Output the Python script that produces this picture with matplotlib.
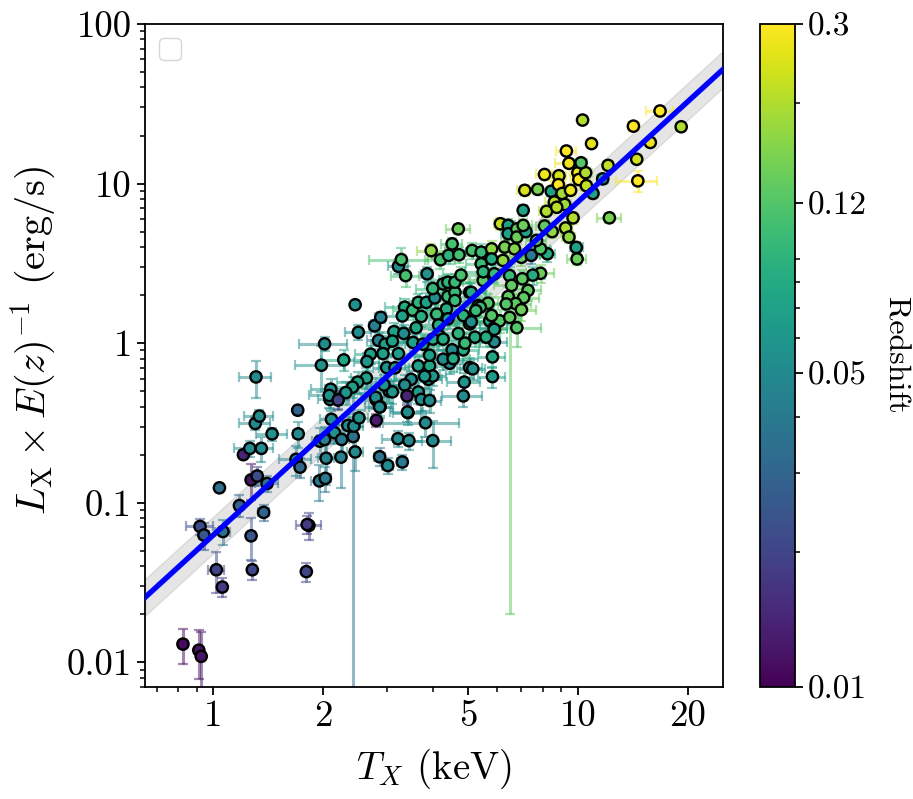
import numpy as np
import matplotlib
matplotlib.use("Agg")
import matplotlib.pyplot as plt
from matplotlib.colors import LogNorm
from matplotlib.ticker import FixedLocator, FixedFormatter, NullFormatter

#Temperature (keV)
T = [0.826, 0.913, 0.927, 1.059, 1.02, 1.28, 1.80, 1.83, 1.81, 0.92,
     0.943, 1.063, 1.27, 1.375, 1.18, 1.04, 1.27, 1.32, 1.405, 1.21,
     1.26, 1.355, 1.304, 1.338, 1.45, 1.705, 1.71, 1.687, 1.73, 1.955,
     2.03, 2.04, 2.24, 2.45, 2.42, 2.11, 2.15, 2.34, 2.43, 2.51,
     2.20, 2.09, 1.96, 2.02, 2.25, 2.80, 2.80, 2.87, 3.42, 3.82,
     2.86, 3.01, 3.30, 3.21, 3.44, 4.00, 1.31, 2.02, 1.98, 2.28,
     2.45, 2.50, 2.77, 2.88, 2.84, 2.96, 3.13, 3.33, 3.10, 2.92,
     2.70, 2.64, 3.22, 2.99, 2.63, 2.49, 2.41, 2.31, 2.10, 2.08,
     2.20, 2.79, 2.86, 3.41, 4.85, 4.88, 5.83, 5.83, 5.90, 5.05,
     5.15, 5.22, 5.60, 4.85, 4.52, 4.45, 4.27, 3.92, 3.92, 3.65,
     3.49, 3.89, 4.00, 3.04, 3.10, 2.94, 3.35, 3.65, 3.72, 3.92,
     3.40, 3.35, 3.30, 3.52, 3.65, 3.72, 3.84, 4.05, 4.00, 4.40,
     4.60, 4.27, 4.40, 4.60, 4.78, 3.86, 3.37, 3.22, 3.28, 4.20,
     3.96, 4.52, 4.42, 4.72, 4.70, 5.13, 5.43, 5.43, 5.50, 5.05,
     5.33, 4.36, 4.10, 4.40, 5.05, 5.73, 5.90, 4.17, 4.00, 3.53,
     3.76, 4.27, 4.85, 6.13, 6.44, 6.44, 7.08, 7.15, 7.76, 8.45,
     8.10, 8.87, 8.84, 9.05, 9.55, 10.0, 10.06, 10.5, 10.55, 11.0,
     11.7, 8.62, 9.20, 8.20, 8.75, 9.70, 9.25, 9.45, 9.90, 9.95,
     12.2, 8.10, 8.50, 6.80, 6.80, 7.20, 7.08, 5.80, 6.30, 6.70,
     5.80, 6.23, 7.00, 7.45, 8.25, 7.90, 7.70, 5.50, 7.90, 7.52,
     7.04, 6.50, 5.90, 6.58, 7.30, 7.10, 6.44, 6.75, 7.00, 6.36,
     5.67, 6.10, 5.80, 5.90, 6.80, 6.50, 5.10, 4.90, 4.60, 5.10,
     5.40, 10.3, 10.9, 9.30, 9.45, 10.2, 12.1, 14.5, 15.8, 14.2,
     16.8, 19.2, 14.6, 3.60, 4.15, 4.70, 5.25, 3.15, 3.80, 4.55]
#Luminosity
L = [0.0130, 0.0119, 0.0109, 0.0296, 0.038, 0.038, 0.037, 0.072, 0.073, 0.071,
     0.0627, 0.066, 0.062, 0.087, 0.096, 0.124, 0.139, 0.147, 0.132, 0.20,
     0.219, 0.219, 0.314, 0.349, 0.27, 0.38, 0.27, 0.187, 0.167, 0.137,
     0.142, 0.19, 0.193, 0.208, 0.26, 0.333, 0.275, 0.305, 0.302, 0.34,
     0.444, 0.444, 0.243, 0.249, 0.249, 0.328, 0.44, 0.40, 0.367, 0.317,
     0.194, 0.171, 0.18, 0.252, 0.245, 0.245, 0.614, 0.99, 0.727, 0.785,
     1.74, 1.17, 1.285, 1.45, 1.04, 0.985, 1.18, 1.15, 1.03, 0.86,
     0.853, 0.767, 0.86, 0.703, 0.605, 0.57, 0.53, 0.49, 0.514, 0.47,
     0.44, 0.457, 0.398, 0.37, 0.467, 0.57, 0.617, 0.82, 1.02, 0.703,
     0.69, 1.09, 1.09, 0.908, 0.908, 0.748, 0.793, 0.72, 0.84, 0.72,
     0.593, 0.593, 0.622, 0.50, 0.495, 0.547, 0.547, 0.494, 0.444, 0.437,
     0.467, 1.68, 1.48, 1.61, 1.80, 1.47, 1.80, 1.92, 2.20, 1.96,
     2.08, 2.35, 2.41, 2.41, 2.67, 2.72, 2.65, 3.03, 3.34, 3.33,
     3.80, 4.19, 3.55, 3.58, 5.20, 3.81, 3.72, 3.14, 2.47, 2.08,
     1.72, 1.64, 1.52, 1.42, 1.32, 1.38, 1.25, 1.11, 1.06, 1.01,
     0.985, 1.06, 1.49, 5.60, 5.47, 4.85, 6.80, 9.07, 9.20, 8.95,
     11.4, 11.2, 9.85, 8.67, 9.07, 11.7, 10.6, 11.7, 9.70, 8.67,
     10.7, 7.66, 7.40, 6.70, 7.10, 6.10, 5.27, 4.62, 3.98, 3.37,
     6.10, 5.42, 5.00, 5.20, 4.62, 5.00, 5.47, 3.90, 4.00, 3.90,
     3.37, 3.30, 3.45, 3.55, 3.63, 3.90, 4.40, 2.80, 2.74, 2.67,
     2.53, 2.65, 2.72, 2.30, 2.14, 1.93, 1.96, 1.77, 1.62, 1.76,
     1.78, 1.38, 1.49, 1.22, 1.25, 1.45, 1.36, 1.00, 1.85, 2.08,
     1.68, 25.0, 17.8, 16.0, 13.4, 13.5, 13.0, 14.2, 18.1, 22.9,
     28.5, 22.7, 10.4, 1.25, 1.30, 1.15, 1.60, 0.70, 0.62, 0.80]
#Redshift
z = [0.011, 0.012, 0.012, 0.018, 0.020, 0.020, 0.020, 0.020, 0.018, 0.022,
     0.025, 0.035, 0.025, 0.030, 0.028, 0.035, 0.012, 0.022, 0.035, 0.014,
     0.050, 0.050, 0.050, 0.050, 0.055, 0.030, 0.050, 0.045, 0.030, 0.040,
     0.040, 0.045, 0.045, 0.050, 0.035, 0.050, 0.055, 0.050, 0.050, 0.055,
     0.040, 0.050, 0.045, 0.045, 0.040, 0.013, 0.050, 0.050, 0.055, 0.050,
     0.035, 0.050, 0.040, 0.050, 0.050, 0.050, 0.050, 0.050, 0.055, 0.075,
     0.055, 0.050, 0.045, 0.045, 0.045, 0.070, 0.070, 0.050, 0.070, 0.070,
     0.070, 0.060, 0.065, 0.060, 0.070, 0.070, 0.070, 0.060, 0.055, 0.055,
     0.020, 0.050, 0.050, 0.050, 0.050, 0.060, 0.065, 0.075, 0.050, 0.060,
     0.055, 0.080, 0.080, 0.080, 0.050, 0.050, 0.050, 0.075, 0.070, 0.070,
     0.050, 0.060, 0.060, 0.065, 0.060, 0.060, 0.050, 0.065, 0.050, 0.050,
     0.014, 0.080, 0.070, 0.100, 0.090, 0.085, 0.070, 0.050, 0.095, 0.100,
     0.100, 0.090, 0.090, 0.100, 0.110, 0.055, 0.110, 0.050, 0.110, 0.110,
     0.170, 0.110, 0.090, 0.110, 0.140, 0.110, 0.100, 0.100, 0.130, 0.080,
     0.110, 0.080, 0.100, 0.070, 0.100, 0.080, 0.070, 0.090, 0.080, 0.070,
     0.075, 0.080, 0.090, 0.220, 0.070, 0.070, 0.070, 0.240, 0.150, 0.070,
     0.280, 0.240, 0.300, 0.190, 0.270, 0.280, 0.300, 0.200, 0.220, 0.070,
     0.070, 0.220, 0.180, 0.200, 0.210, 0.200, 0.200, 0.170, 0.070, 0.140,
     0.150, 0.130, 0.170, 0.130, 0.140, 0.070, 0.140, 0.170, 0.150, 0.160,
     0.080, 0.170, 0.140, 0.040, 0.080, 0.120, 0.130, 0.090, 0.140, 0.080,
     0.130, 0.100, 0.100, 0.130, 0.130, 0.130, 0.130, 0.130, 0.140, 0.120,
     0.120, 0.120, 0.120, 0.070, 0.120, 0.130, 0.050, 0.100, 0.100, 0.080,
     0.100, 0.200, 0.260, 0.300, 0.280, 0.120, 0.220, 0.230, 0.270, 0.300,
     0.300, 0.200, 0.300, 0.075, 0.085, 0.090, 0.100, 0.065, 0.060, 0.080]
T_err = [0.0, 0.0, 0.0, 0.02, 0.05, 0.0, 0.02, 0.14, 0.03, 0.08,
         0.03, 0.05, 0.02, 0.05, 0.03, 0.02, 0.03, 0.04, 0.10, 0.02,
         0.12, 0.10, 0.13, 0.12, 0.14, 0.02, 0.05, 0.17, 0.03, 0.10,
         0.08, 0.10, 0.05, 0.12, 0.04, 0.15, 0.15, 0.18, 0.15, 0.15,
         0.15, 0.15, 0.10, 0.10, 0.10, 0.05, 0.20, 0.20, 0.30, 0.90,
         0.10, 0.10, 0.10, 0.30, 0.30, 0.50, 0.13, 0.30, 0.30, 0.30,
         0.05, 0.20, 0.10, 0.10, 0.20, 0.25, 0.30, 0.25, 0.30, 0.25,
         0.25, 0.20, 0.25, 0.25, 0.25, 0.30, 0.30, 0.30, 0.25, 0.25,
         0.05, 0.25, 0.25, 0.35, 0.60, 0.50, 0.50, 0.50, 0.50, 0.40,
         0.40, 0.50, 0.50, 0.50, 0.40, 0.40, 0.35, 0.35, 0.35, 0.30,
         0.35, 0.35, 0.35, 0.30, 0.30, 0.30, 0.30, 0.30, 0.30, 0.30,
         0.05, 0.40, 0.40, 0.40, 0.40, 0.30, 0.30, 0.35, 0.40, 0.50,
         0.50, 0.45, 0.45, 0.45, 0.50, 0.15, 0.30, 0.20, 0.60, 0.40,
         0.35, 0.30, 0.45, 0.45, 0.35, 0.50, 0.50, 0.50, 0.50, 0.50,
         0.50, 0.50, 0.50, 0.50, 0.60, 0.70, 0.50, 0.45, 0.40, 0.35,
         0.40, 0.45, 0.50, 0.25, 0.30, 0.30, 0.15, 0.35, 0.20, 0.10,
         0.40, 0.40, 0.40, 0.30, 0.30, 0.50, 0.50, 0.40, 0.40, 0.30,
         0.40, 0.50, 0.40, 0.40, 0.40, 0.30, 0.40, 0.40, 0.40, 0.60,
         0.90, 0.40, 0.50, 0.40, 0.50, 0.30, 0.40, 0.60, 0.40, 0.50,
         0.50, 0.50, 0.50, 0.40, 0.40, 0.50, 0.50, 0.60, 0.70, 0.60,
         0.70, 0.60, 0.50, 0.70, 0.60, 0.70, 0.70, 0.70, 0.70, 0.70,
         0.60, 0.80, 0.60, 0.50, 1.10, 0.50, 0.50, 0.50, 0.50, 0.50,
         0.50, 0.15, 0.25, 0.60, 0.80, 0.40, 0.40, 0.40, 0.40, 0.50,
         1.40, 0.50, 1.90, 0.40, 0.50, 0.50, 0.50, 0.30, 0.40, 0.50]
L_err = [0.0032, 0.004, 0.0045, 0.004, 0.011, 0.005, 0.005, 0.014, 0.009, 0.008,
         0.012, 0.012, 0.018, 0.010, 0.015, 0.006, 0.035, 0.020, 0.015, 0.010,
         0.025, 0.040, 0.030, 0.030, 0.025, 0.025, 0.050, 0.040, 0.025, 0.035,
         0.025, 0.060, 0.070, 0.050, 0.270, 0.040, 0.040, 0.040, 0.060, 0.040,
         0.060, 0.060, 0.050, 0.050, 0.060, 0.030, 0.050, 0.050, 0.060, 0.060,
         0.025, 0.020, 0.020, 0.030, 0.030, 0.080, 0.160, 0.100, 0.230, 0.120,
         0.060, 0.130, 0.110, 0.120, 0.120, 0.120, 0.150, 0.150, 0.130, 0.110,
         0.110, 0.100, 0.120, 0.110, 0.090, 0.090, 0.080, 0.080, 0.080, 0.080,
         0.060, 0.070, 0.060, 0.050, 0.070, 0.080, 0.090, 0.120, 0.150, 0.100,
         0.100, 0.150, 0.150, 0.130, 0.120, 0.110, 0.110, 0.100, 0.110, 0.100,
         0.080, 0.080, 0.080, 0.080, 0.080, 0.080, 0.080, 0.080, 0.070, 0.070,
         0.060, 0.220, 0.220, 0.220, 0.220, 0.200, 0.250, 0.250, 0.280, 0.250,
         0.280, 0.300, 0.300, 0.300, 0.320, 0.300, 0.400, 0.300, 0.600, 0.400,
         0.400, 0.400, 0.400, 0.400, 0.400, 0.450, 0.450, 0.400, 0.350, 0.300,
         0.250, 0.220, 0.220, 0.200, 0.220, 0.220, 0.200, 0.150, 0.150, 0.150,
         0.150, 0.150, 0.250, 0.500, 0.500, 0.450, 0.500, 0.700, 0.700, 0.600,
         0.800, 0.800, 0.700, 0.600, 0.700, 0.800, 0.800, 0.800, 0.700, 0.600,
         0.800, 0.600, 0.600, 0.500, 0.500, 0.500, 0.450, 0.400, 0.350, 0.300,
         0.400, 0.500, 0.450, 0.500, 0.450, 0.400, 0.500, 0.450, 0.450, 0.450,
         0.400, 0.400, 0.400, 0.400, 0.400, 0.450, 0.450, 0.350, 0.350, 0.350,
         0.350, 0.350, 0.350, 0.300, 0.300, 0.280, 0.280, 0.280, 0.250, 0.280,
         0.250, 0.230, 0.250, 0.220, 0.300, 1.430, 0.220, 0.170, 0.280, 0.300,
         0.250, 0.800, 0.800, 0.900, 0.800, 0.800, 0.700, 1.000, 0.800, 1.500,
         1.800, 0.800, 1.600, 0.200, 0.200, 0.200, 0.250, 0.120, 0.100, 0.140]

fit_T = [0.65, 25.0]
fit_L = [0.0255, 52.0]
band_dex = 0.115
fit_dex = 0.02

xticks = [1, 2, 5, 10, 20]
xticklabels = ["1", "2", "5", "10", "20"]
yticks = [0.01, 0.1, 1, 10, 100]
yticklabels = ["0.01", "0.1", "1", "10", "100"]
zticks = [0.01, 0.05, 0.12, 0.3]
zticklabels = ["0.01", "0.05", "0.12", "0.3"]
zminor = [0.02, 0.03, 0.04, 0.06, 0.07, 0.08, 0.09, 0.2]

plt.rcParams["font.family"] = ["cmr10", "DejaVu Serif"]
plt.rcParams["mathtext.fontset"] = "cm"
plt.rcParams["axes.formatter.use_mathtext"] = True
plt.rcParams["axes.unicode_minus"] = False

W, H = 913, 799
fig = plt.figure(figsize=(W / 100, H / 100), dpi=100)
ax = fig.add_axes([145 / W, 1 - 687 / H, (723 - 145) / W, (687 - 24) / H])
cax = fig.add_axes([760 / W, 1 - 687 / H, 35 / W, (687 - 24) / H])

norm = LogNorm(vmin=0.01, vmax=0.3)
cmap = plt.cm.viridis

#barras de erro, uma por ponto para ter a cor do redshift
for i in range(len(T)):
    ax.errorbar(T[i], L[i], xerr=T_err[i], yerr=L_err[i], fmt="none",
                ecolor=cmap(norm(z[i])), alpha=0.5, elinewidth=2.2, capsize=3.8,
                capthick=1.6, zorder=2)
sc = ax.scatter(T, L, c=z, cmap=cmap, norm=norm, s=66, edgecolors="black",
                linewidths=1.7, zorder=3)

fit_T = np.array(fit_T)
fit_L = np.array(fit_L)
ax.fill_between(fit_T, fit_L * 10**(-band_dex), fit_L * 10**band_dex,
                color="grey", alpha=0.2, zorder=1)
ax.fill_between(fit_T, fit_L * 10**(-fit_dex), fit_L * 10**fit_dex,
                color="blue", alpha=0.2, linewidth=0, zorder=3.5)
ax.plot(fit_T, fit_L, color="blue", lw=3.8, zorder=4)

ax.set_xscale("log")
ax.set_yscale("log")
ax.set_xlim(0.65, 25)
ax.set_ylim(0.007, 100)

ax.xaxis.set_major_locator(FixedLocator(xticks))
ax.xaxis.set_major_formatter(FixedFormatter(xticklabels))
ax.xaxis.set_minor_locator(FixedLocator([0.7, 0.8, 0.9, 3, 4, 6, 7, 8, 9]))
ax.xaxis.set_minor_formatter(NullFormatter())
ax.yaxis.set_major_locator(FixedLocator(yticks))
ax.yaxis.set_major_formatter(FixedFormatter(yticklabels))
ax.yaxis.set_minor_locator(matplotlib.ticker.LogLocator(base=10, subs=np.arange(2, 10), numticks=20))
ax.yaxis.set_minor_formatter(NullFormatter())
ax.tick_params(which="major", labelsize=26.5, length=6, width=1.3)
ax.tick_params(which="minor", length=3.5, width=1.1)
for s in ax.spines.values():
    s.set_linewidth(1.3)

ax.set_xlabel(r"$T_X$ (keV)", fontsize=28)
ax.xaxis.set_label_coords(0.5, -0.09)
ax.set_ylabel(r"$L_{\rm X} \times E(z)^{-1}$ (erg/s)", fontsize=29)
ax.yaxis.set_label_coords(-0.15, 0.523)

#legenda vazia, como no original
ax.legend(handles=[], loc="upper left", fontsize=20)

cb = fig.colorbar(sc, cax=cax)
cb.set_ticks(zticks)
cb.set_ticklabels(zticklabels)
cb.ax.yaxis.set_minor_locator(FixedLocator(zminor))
cb.ax.yaxis.set_minor_formatter(NullFormatter())
cb.ax.tick_params(which="major", labelsize=24, length=6, width=1.3)
cb.ax.tick_params(which="minor", length=3.5, width=1.1)
cb.outline.set_linewidth(1.3)
cb.set_label("Redshift", fontsize=23, rotation=270, va="center", ha="center")
cb.ax.yaxis.set_label_coords((895 - 760) / 35, 0.5)

fig.savefig("out.png", dpi=100)
